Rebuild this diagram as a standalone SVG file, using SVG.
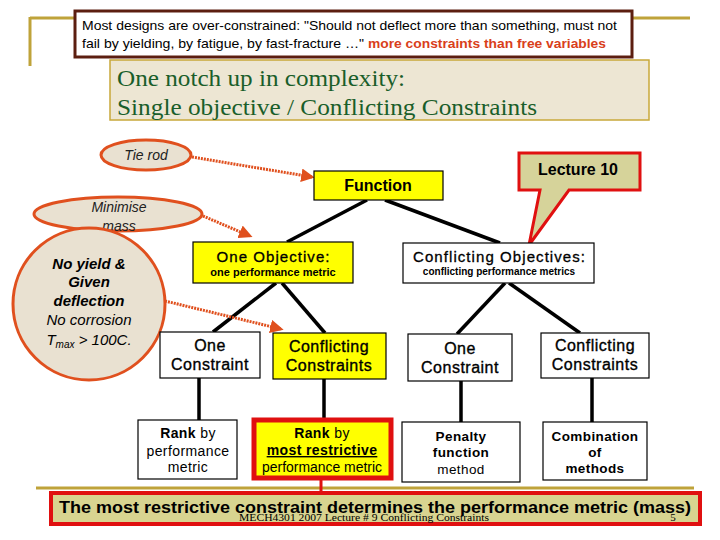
<svg xmlns="http://www.w3.org/2000/svg" width="720" height="540" viewBox="0 0 720 540">
<defs>
<style>
.sans{font-family:"Liberation Sans",Arial,sans-serif;}
.serif{font-family:"Liberation Serif","Times New Roman",serif;}
.box{stroke:#000;stroke-width:1.2;}
.yel{fill:#ffff00;}
.wht{fill:#fff;}
.conn{stroke:#000;stroke-width:3.5;fill:none;}
.dot{stroke:#e0501e;stroke-width:3;stroke-dasharray:2 1;fill:none;}
.ell{fill:#e9e1d1;stroke:#e0501e;stroke-width:3;}
.t16{font-size:16px;letter-spacing:0.5px;stroke:#000;stroke-width:0.35px;}
.t14{font-size:14px;letter-spacing:0.4px;}
.t13{font-size:13.5px;letter-spacing:0.4px;}
.b{font-weight:bold;}
.i{font-style:italic;}
</style>
<marker id="arr" viewBox="0 0 10 10" refX="8" refY="5" markerWidth="4.5" markerHeight="4.5" orient="auto" markerUnits="strokeWidth">
<path d="M0,0 L10,5 L0,10 z" fill="#e0501e"/>
</marker>
</defs>
<rect width="720" height="540" fill="#fff"/>

<g id="decor">
<line x1="30" y1="18" x2="690" y2="18" stroke="#bfa33a" stroke-width="3"/>
<line x1="30" y1="17" x2="30" y2="66" stroke="#bfa33a" stroke-width="3"/>
<line x1="36" y1="488" x2="694" y2="488" stroke="#bfa33a" stroke-width="3"/>
</g>

<g id="intro">
<rect x="75" y="11" width="557" height="46" fill="#fff" stroke="#5c1e10" stroke-width="3"/>
<text class="sans" x="82" y="30" font-size="13" textLength="535" lengthAdjust="spacingAndGlyphs">Most designs are over-constrained: "Should not deflect more than something, must not</text>
<text class="sans" x="82" y="48" font-size="13" textLength="282" lengthAdjust="spacingAndGlyphs">fail by yielding, by fatigue, by fast-fracture …"</text>
<text class="sans b" x="368" y="48" font-size="13" fill="#d9401a" textLength="238" lengthAdjust="spacingAndGlyphs">more constraints than free variables</text>
</g>

<g id="title">
<rect x="110" y="60" width="539" height="60" fill="#ede6d3" stroke="#c8a83a" stroke-width="1.5"/>
<text class="serif" x="117" y="86" font-size="23" fill="#1a5e2a" textLength="288" lengthAdjust="spacingAndGlyphs">One notch up in complexity:</text>
<text class="serif" x="117" y="115" font-size="23" fill="#1a5e2a" textLength="420" lengthAdjust="spacingAndGlyphs">Single objective / Conflicting Constraints</text>
</g>

<g id="connectors">
<line class="conn" x1="367" y1="200" x2="287" y2="242"/>
<line class="conn" x1="385" y1="200" x2="500" y2="243"/>
<line class="conn" x1="276" y1="283" x2="213" y2="332"/>
<line class="conn" x1="282" y1="283" x2="325" y2="333"/>
<line class="conn" x1="505" y1="283" x2="457" y2="334"/>
<line class="conn" x1="509" y1="283" x2="580" y2="333"/>
<line class="conn" x1="199" y1="378" x2="199" y2="420"/>
<line class="conn" x1="324" y1="379" x2="324" y2="418"/>
<line class="conn" x1="461" y1="381" x2="461" y2="422"/>
<line class="conn" x1="592" y1="378" x2="592" y2="422"/>
<line x1="321" y1="480" x2="321" y2="493" stroke="#e01010" stroke-width="3"/>
<path class="dot" d="M192,157 L312,177" marker-end="url(#arr)"/>
<path class="dot" d="M203,216 L250,236" marker-end="url(#arr)"/>
<path class="dot" d="M165,301 L281,329" marker-end="url(#arr)"/>
</g>

<g id="tierod">
<ellipse class="ell" cx="146" cy="155" rx="45" ry="15"/>
<text class="sans i" x="146" y="160" font-size="14" text-anchor="middle" fill="#222">Tie rod</text>
</g>

<g id="minimise">
<ellipse class="ell" cx="118" cy="214" rx="84" ry="17"/>
<text class="sans i" x="119" y="212" font-size="14" text-anchor="middle" fill="#222">Minimise</text>
<text class="sans i" x="119" y="231" font-size="14" text-anchor="middle" fill="#222">mass</text>
</g>

<g id="constraints-circle">
<circle class="ell" cx="89" cy="304" r="76"/>
<text class="sans b i" x="89" y="269" font-size="15" text-anchor="middle">No yield &amp;</text>
<text class="sans b i" x="89" y="287" font-size="15" text-anchor="middle">Given</text>
<text class="sans b i" x="89" y="306" font-size="15" text-anchor="middle">deflection</text>
<text class="sans i" x="89" y="325" font-size="15" text-anchor="middle">No corrosion</text>
<text class="sans i" x="89" y="345" font-size="15" text-anchor="middle">T<tspan font-size="10" dy="3">max</tspan><tspan dy="-3"> &gt; 100C.</tspan></text>
</g>

<g id="function">
<rect class="box yel" x="314" y="171" width="129" height="29"/>
<text class="sans b" x="378" y="191" font-size="16" text-anchor="middle">Function</text>
</g>

<g id="lecture10">
<path d="M519,153 H640 V190 H569 L529,245 L540,190 H519 Z" fill="#d6d39a" stroke="#e01010" stroke-width="3" stroke-linejoin="miter"/>
<text class="sans b" x="578" y="175" font-size="16" text-anchor="middle">Lecture 10</text>
</g>

<g id="one-objective">
<rect class="box yel" x="193" y="242" width="160" height="41"/>
<text class="sans" x="273" y="262" font-size="15" stroke="#000" stroke-width="0.3" text-anchor="middle" textLength="113" lengthAdjust="spacing">One Objective:</text>
<text class="sans b" x="273" y="276" font-size="11" text-anchor="middle">one performance metric</text>
</g>

<g id="conflicting-objectives">
<rect class="box wht" x="403" y="243" width="191" height="40"/>
<text class="sans" x="499" y="262" font-size="15" stroke="#000" stroke-width="0.3" text-anchor="middle" textLength="172" lengthAdjust="spacing">Conflicting Objectives:</text>
<text class="sans b" x="499" y="275" font-size="10" text-anchor="middle">conflicting performance metrics</text>
</g>

<g id="one-constraint-1">
<rect class="box wht" x="160" y="332" width="100" height="46"/>
<text class="sans t16" x="210" y="351" text-anchor="middle">One</text>
<text class="sans t16" x="210" y="370" text-anchor="middle">Constraint</text>
</g>

<g id="conflicting-constraints-1">
<rect class="box yel" x="273" y="333" width="113" height="46"/>
<text class="sans t16" x="329" y="352" text-anchor="middle">Conflicting</text>
<text class="sans t16" x="329" y="371" text-anchor="middle">Constraints</text>
</g>

<g id="one-constraint-2">
<rect class="box wht" x="408" y="334" width="104" height="47"/>
<text class="sans t16" x="460" y="354" text-anchor="middle">One</text>
<text class="sans t16" x="460" y="373" text-anchor="middle">Constraint</text>
</g>

<g id="conflicting-constraints-2">
<rect class="box wht" x="541" y="333" width="108" height="45"/>
<text class="sans t16" x="595" y="351" text-anchor="middle">Conflicting</text>
<text class="sans t16" x="595" y="370" text-anchor="middle">Constraints</text>
</g>

<g id="rank-performance">
<rect class="box wht" x="138" y="420" width="99" height="59"/>
<text class="sans t14" x="188" y="438" text-anchor="middle"><tspan class="b">Rank</tspan> by</text>
<text class="sans t14" x="188" y="456" text-anchor="middle">performance</text>
<text class="sans t14" x="188" y="472" text-anchor="middle">metric</text>
</g>

<g id="rank-restrictive">
<rect x="254" y="420" width="137" height="58" fill="#ffff00" stroke="#e01010" stroke-width="5"/>
<text class="sans t14" x="322" y="438" text-anchor="middle"><tspan class="b">Rank</tspan> by</text>
<text class="sans t14 b" x="322" y="455" text-anchor="middle" text-decoration="underline">most restrictive</text>
<text class="sans" x="322" y="472" font-size="14" text-anchor="middle" textLength="120" lengthAdjust="spacingAndGlyphs">performance metric</text>
</g>

<g id="penalty">
<rect class="box wht" x="402" y="422" width="118" height="60"/>
<text class="sans t13 b" x="461" y="441" text-anchor="middle">Penalty</text>
<text class="sans t13 b" x="461" y="457" text-anchor="middle">function</text>
<text class="sans t13" x="461" y="474" text-anchor="middle">method</text>
</g>

<g id="combination">
<rect class="box wht" x="543" y="422" width="104" height="58"/>
<text class="sans t13 b" x="595" y="441" text-anchor="middle">Combination</text>
<text class="sans t13 b" x="595" y="457" text-anchor="middle">of</text>
<text class="sans t13 b" x="595" y="473" text-anchor="middle">methods</text>
</g>

<g id="conclusion">
<rect x="51" y="493" width="649" height="31" fill="#d8d490" stroke="#e01010" stroke-width="4"/>
<text class="sans b" x="375" y="513" font-size="17" text-anchor="middle" textLength="632" lengthAdjust="spacingAndGlyphs">The most restrictive constraint determines the performance metric (mass)</text>
<text class="serif" x="364" y="521" font-size="11" text-anchor="middle" textLength="250" lengthAdjust="spacingAndGlyphs">MECH4301 2007 Lecture # 9 Conflicting Constraints</text>
<text class="serif" x="673" y="521" font-size="11" text-anchor="middle">5</text>
</g>
</svg>
